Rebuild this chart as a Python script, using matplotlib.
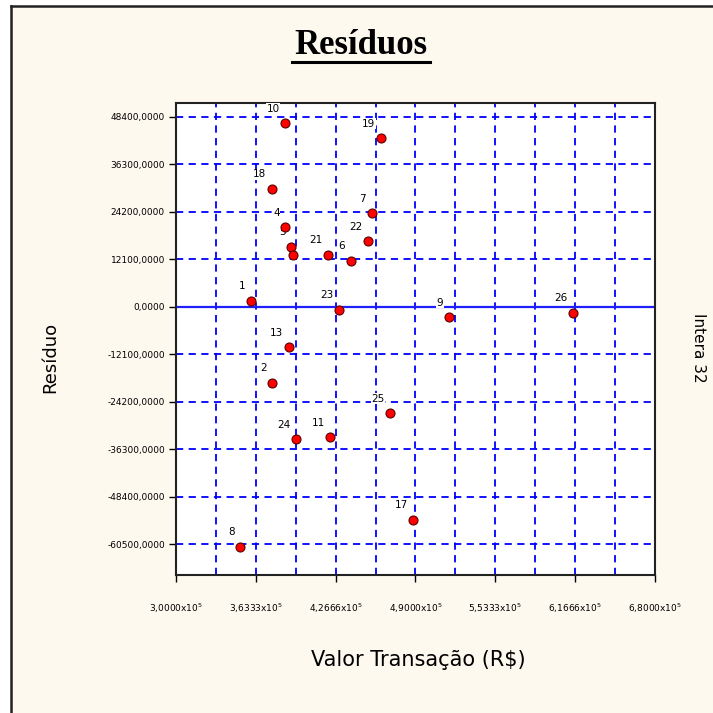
import matplotlib
matplotlib.use("Agg")
import matplotlib.pyplot as plt
from matplotlib.lines import Line2D
from matplotlib.patches import Rectangle

# data: point id, transaction value (R$), residual
point_ids = ["1", "2", "4", "5", "", "6", "7", "8", "9", "10", "11", "13",
             "17", "18", "19", "21", "22", "23", "24", "25", "26"]
valor = [359500, 376200, 386700, 391200, 393100, 438600, 455300, 350800,
         516300, 386700, 422400, 389400, 488300, 376200, 462400, 420800,
         452300, 429600, 395400, 470000, 615200]
residuo = [1530, -19360, 20220, 15280, 13090, 11720, 23790, -61130,
           -2700, 46710, -33260, -10340, -54330, 29980, 42890, 13240,
           16660, -760, -33770, -27150, -1530]

x_ticks = [300000, 363333, 426666, 490000, 553333, 616666, 680000]
x_tick_labels = ["3,0000", "3,6333", "4,2666", "4,9000", "5,5333", "6,1666", "6,8000"]
y_ticks = [-60500, -48400, -36300, -24200, -12100, 0, 12100, 24200, 36300, 48400]

bg = "#fef9ee"
fig = plt.figure(figsize=(7.13, 7.13), dpi=100)
fig.patch.set_facecolor("white")

# cream panel with dark left/top border
fig.add_artist(Rectangle((11 / 713, 0), 1, 1 - 6 / 713, transform=fig.transFigure,
                         facecolor=bg, edgecolor="none", zorder=-10))
fig.add_artist(Line2D([11 / 713, 11 / 713], [0, 1 - 6 / 713], transform=fig.transFigure,
                      color="#222222", lw=1.8))
fig.add_artist(Line2D([11 / 713, 1], [1 - 6 / 713, 1 - 6 / 713], transform=fig.transFigure,
                      color="#222222", lw=1.8))

ax = fig.add_axes([176 / 713, 1 - 575 / 713, 479 / 713, 472 / 713])
ax.set_facecolor("white")

ax.set_xlim(300000, 680000)
ax.set_ylim(-68340, 51880)

ax.set_xticks(x_ticks)
ax.set_xticklabels([s + r"x10$^5$" for s in x_tick_labels], fontsize=6.5)
ax.set_xticks([(a + b) / 2 for a, b in zip(x_ticks[:-1], x_ticks[1:])], minor=True)
ax.set_yticks(y_ticks)
ax.set_yticklabels([f"{v},0000" for v in y_ticks], fontsize=6.5)

ax.tick_params(axis="x", which="major", length=5, width=1, pad=14)
ax.tick_params(axis="x", which="minor", length=0)
ax.tick_params(axis="y", length=5, width=1, pad=3)

ax.grid(True, axis="x", which="both", color="blue", ls=(0, (4, 3)), lw=1.3)
ax.grid(True, axis="y", which="major", color="blue", ls=(0, (4, 3)), lw=1.3)
ax.set_axisbelow(True)
ax.axhline(0, color="#2020ff", lw=1.6, zorder=1)

for s in ax.spines.values():
    s.set_linewidth(1.5)
    s.set_color("#222222")

ax.scatter(valor, residuo, s=42, c="red", edgecolors="#5a0000", linewidths=0.8, zorder=4)
for lab, xv, yv in zip(point_ids, valor, residuo):
    if lab:
        ax.annotate(lab, (xv, yv), xytext=(-4, 10.5), textcoords="offset points",
                    ha="right", va="center", fontsize=7.5,
                    bbox=dict(boxstyle="square,pad=0.05", fc="white", ec="none"),
                    zorder=3)

# titles and axis labels
fig.text(361 / 713, 1 - 45 / 713, "Resíduos", ha="center", va="center",
         fontsize=25, fontweight="bold", family="Liberation Serif")
fig.add_artist(Line2D([292 / 713, 430 / 713], [1 - 62 / 713, 1 - 62 / 713],
                      transform=fig.transFigure, color="black", lw=2.2))
fig.text(418 / 713, 1 - 660 / 713, "Valor Transação (R\\$)", ha="center", va="center",
         fontsize=15)
fig.text(50 / 713, 1 - 357 / 713, "Resíduo", ha="center", va="center",
         rotation=90, fontsize=13)
fig.text(699 / 713, 1 - 348 / 713, "Intera 32", ha="center", va="center",
         rotation=-90, fontsize=11)

fig.savefig("out.png", dpi=100, facecolor=fig.get_facecolor())
